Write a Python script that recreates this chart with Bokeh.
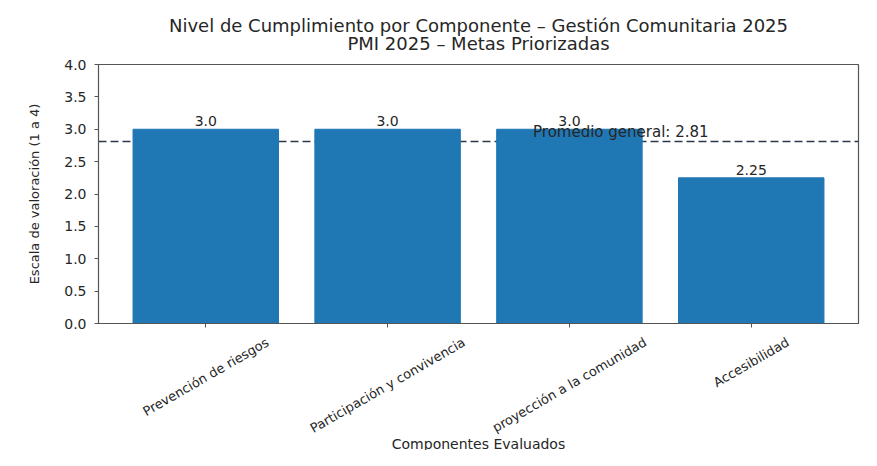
from math import pi, sin, cos
from bokeh.plotting import figure
from bokeh.layouts import column
from bokeh.models import Range1d, FixedTicker, Span, ColumnDataSource, Label
from bokeh.core.properties import value
from bokeh.embed import file_html
from bokeh.resources import INLINE

# ---- data ----
categories = ["Prevención de riesgos", "Participación y convivencia",
              "proyección a la comunidad", "Accesibilidad"]
scores = [3.0, 3.0, 3.0, 2.25]
score_labels = ["3.0", "3.0", "3.0", "2.25"]
y_ticks = [0.0, 0.5, 1.0, 1.5, 2.0, 2.5, 3.0, 3.5, 4.0]
title_lines = ["Nivel de Cumplimiento por Componente – Gestión Comunitaria 2025",
               "PMI 2025 – Metas Priorizadas"]
x_label = "Componentes Evaluados"
y_label = "Escala de valoración (1 a 4)"

average = sum(scores) / len(scores)
avg_text = f"Promedio general: {average:.2f}"
x_pos = list(range(len(categories)))

FONT = "DejaVu Sans"
TXT = "#262626"
BLUE = "#1f77b4"
TICK_FS = 13
ROT = pi / 6

# approximate DejaVu Sans advance widths (em) to centre rotated labels like matplotlib
_W = {" ": .318, "a": .613, "b": .635, "c": .55, "d": .635, "e": .615, "g": .635,
      "i": .278, "l": .278, "m": .974, "n": .634, "o": .612, "ó": .612, "p": .635,
      "r": .411, "s": .521, "t": .392, "u": .634, "v": .592, "y": .592,
      "P": .603, "A": .684}


def text_len(s, fs):
    return sum(_W.get(ch, 0.6) for ch in s) * fs


W = 861
HEAD_H = 55
TOP_PAD = 9
TOP_H = 333 - HEAD_H
BOT_H = 450 - 333
FRAME_L, FRAME_R = 98, 3

n = len(categories)
pad = 0.05 * (n - 1 + 0.8)
xr = Range1d(-0.4 - pad, n - 1 + 0.4 + pad)
x_mid = (xr.start + xr.end) / 2


def strip(height, yr):
    f = figure(width=W, height=height, output_backend="svg", toolbar_location=None,
               x_range=xr, y_range=yr, min_border_left=FRAME_L,
               min_border_right=FRAME_R, min_border_top=0, min_border_bottom=0,
               x_axis_type=None, y_axis_type=None)
    f.xgrid.visible = False
    f.ygrid.visible = False
    f.outline_line_color = None
    f.background_fill_color = "white"
    f.border_fill_color = "white"
    return f


# ---- header strip: two title lines (y = pixels from the top of the page) ----
p0 = strip(HEAD_H, Range1d(HEAD_H, 0))
p0.text(x=[x_mid, x_mid], y=[25, 43], text=title_lines, text_align="center",
        text_baseline="middle", text_font=value(FONT), text_font_size="18px",
        text_color=TXT)

# ---- main plot ----
p = figure(width=W, height=TOP_H, output_backend="svg", toolbar_location=None,
           x_range=xr, y_range=Range1d(0, 4),
           min_border_left=FRAME_L, min_border_right=FRAME_R, min_border_top=TOP_PAD,
           min_border_bottom=10)
p.title = None
p.xgrid.visible = False
p.ygrid.visible = False
p.background_fill_color = "white"
p.border_fill_color = "white"
p.outline_line_color = "#555555"
p.outline_line_width = 1.2

avg_span = Span(location=average, dimension="width", line_color="#2b3a4a",
                line_dash="8 4", line_width=1.5, level="underlay")
p.add_layout(avg_span)

src = ColumnDataSource(dict(x=x_pos, top=scores, lab=score_labels))
p.vbar(x="x", top="top", width=0.8, bottom=0, source=src,
       fill_color=BLUE, line_color=BLUE)
p.text(x="x", y="top", text="lab", source=src, text_align="center",
       text_baseline="bottom", text_font=value(FONT), text_font_size="14px",
       text_color=TXT, y_offset=-3)

p.add_layout(Label(x=n - 2.2, y=average, text=avg_text, text_align="left",
                   text_baseline="bottom", text_font=FONT, text_font_size="15px",
                   text_color=TXT, y_offset=0))

xa = p.xaxis[0]
xa.ticker = FixedTicker(ticks=x_pos)
xa.major_label_overrides = {i: "" for i in x_pos}
xa.major_label_text_font_size = "1px"
xa.minor_tick_line_color = None

ya = p.yaxis[0]
ya.ticker = FixedTicker(ticks=y_ticks)
ya.major_label_overrides = {t: f"{t:.1f}" for t in y_ticks}
ya.major_label_text_font_size = "14px"
ya.major_label_standoff = 8
ya.minor_tick_line_color = None
ya.axis_label = y_label
ya.axis_label_standoff = 19

for ax in (xa, ya):
    ax.axis_line_color = "#555555"
    ax.major_tick_line_color = "#555555"
    ax.major_tick_out = 4
    ax.major_tick_in = 0
    ax.major_label_text_font = FONT
    ax.major_label_text_color = TXT
    ax.axis_label_text_font = FONT
    ax.axis_label_text_font_size = "13px"
    ax.axis_label_text_font_style = "normal"
    ax.axis_label_text_color = TXT

# ---- lower strip: rotated category labels + x-axis title (pixel units, 0 = frame bottom)
p2 = strip(BOT_H, Range1d(-(BOT_H + 10), -10))
lab_y = []
for cat in categories:
    L = text_len(cat, TICK_FS)
    h = TICK_FS * 1.15
    bbox_h = L * sin(ROT) + h * cos(ROT)
    lab_y.append(-(11 + bbox_h / 2))
p2.text(x=x_pos, y=lab_y, text=categories, angle=ROT, text_align="center",
        text_baseline="middle", text_font=value(FONT),
        text_font_size=f"{TICK_FS}px", text_color=TXT)
p2.text(x=[x_mid], y=[-120], text=[x_label], text_align="center",
        text_baseline="middle", text_font=value(FONT), text_font_size="14px",
        text_color=TXT)

layout = column(p0, p, p2, spacing=0)
open("out.html", "w").write(file_html(layout, INLINE))
